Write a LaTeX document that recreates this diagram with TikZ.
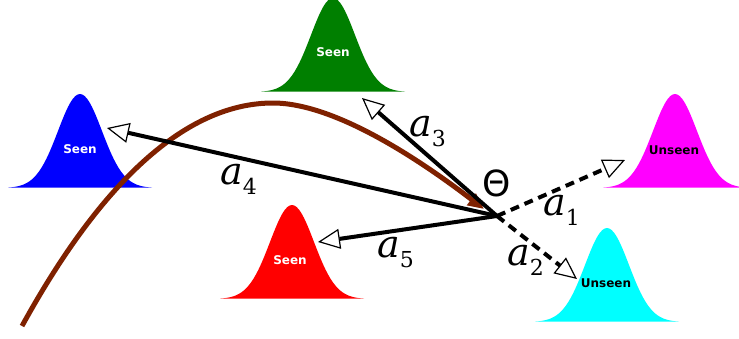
\documentclass[tikz,border=0pt]{standalone}
\usepackage{fontspec}
\setsansfont{DejaVu Sans}
\newfontfamily\labelfont{DejaVu Serif}
\usetikzlibrary{arrows.meta}
\definecolor{bellblue}{HTML}{0000FF}
\definecolor{bellgreen}{HTML}{007F00}
\definecolor{bellred}{HTML}{FF0000}
\definecolor{bellmagenta}{HTML}{FF00FF}
\definecolor{bellcyan}{HTML}{00FFFF}
\definecolor{pathbrown}{HTML}{7F2100}
\newcommand\act[1]{\itshape a\raisebox{-10pt}{\upshape\fontsize{22}{22}\selectfont #1}}
\tikzset{
  bell/.pic={
    \fill plot[domain=-72:72, samples=61, smooth] ({\x},{-94*exp(-\x*\x/968)}) -- cycle;
  },
  seenlab/.style={
    font=\sffamily\bfseries\fontsize{12}{14}\selectfont, text=white, inner sep=0pt
  },
  unseenlab/.style={seenlab, text=black},
  actlab/.style={
    font=\labelfont\fontsize{38}{40}\selectfont, inner sep=0pt, anchor=base west
  },
  seenarrow/.style={
    line width=4pt, -{Triangle[length=22pt, width=20pt, fill=white, line width=1.2pt]}
  },
  unseenarrow/.style={seenarrow, dash pattern=on 9pt off 6pt},
  pathline/.style={
    line width=5pt, color=pathbrown, -{Triangle[length=16pt, width=14pt]}
  },
}
\begin{document}
\begin{tikzpicture}[x=1pt, y=-1pt]
  \useasboundingbox (0,0) rectangle (739,338);
  % class-conditional bells
  \pic[bellblue] at (80,188) {bell};
  \pic[bellgreen] at (333,92) {bell};
  \pic[bellred] at (292,299) {bell};
  \pic[bellmagenta] at (675,188) {bell};
  \pic[bellcyan] at (607,322) {bell};
  \node[seenlab] (sblue) at (80,149) {Seen};
  \node[seenlab] (sgreen) at (333,52) {Seen};
  \node[seenlab] (sred) at (290,260) {Seen};
  \node[unseenlab] (umag) at (674,150) {Unseen};
  \node[unseenlab] (ucyan) at (606,283) {Unseen};
  % trajectory of the parameters
  \coordinate (start) at (22,326);
  \coordinate (top) at (273,103);
  \coordinate (theta) at (497,216);
  \draw[pathline] (start) .. controls (105,175) and (190,103) .. (top)
    .. controls (340,103) and (433,170) .. (484,209);
  % actions from theta
  \coordinate (t1) at (625,160);
  \coordinate (t2) at (577,279);
  \coordinate (t3) at (362,98);
  \coordinate (t4) at (107,128);
  \coordinate (t5) at (318,242);
  \draw[seenarrow] (theta) -- (t3);
  \draw[seenarrow] (theta) -- (t4);
  \draw[seenarrow] (theta) -- (t5);
  \draw[unseenarrow] (theta) -- (t1);
  \draw[unseenarrow] (theta) -- (t2);
  \node[font=\sffamily\fontsize{36}{38}\selectfont, inner sep=0pt] (thetalab) at (497,183) {Θ};
  \node[actlab] (lab1) at (543,215) {\act{1}};
  \node[actlab] (lab2) at (507,265) {\act{2}};
  \node[actlab] (lab3) at (409,136) {\act{3}};
  \node[actlab] (lab4) at (220,184) {\act{4}};
  \node[actlab] (lab5) at (377,257) {\act{5}};
\end{tikzpicture}
\end{document}
